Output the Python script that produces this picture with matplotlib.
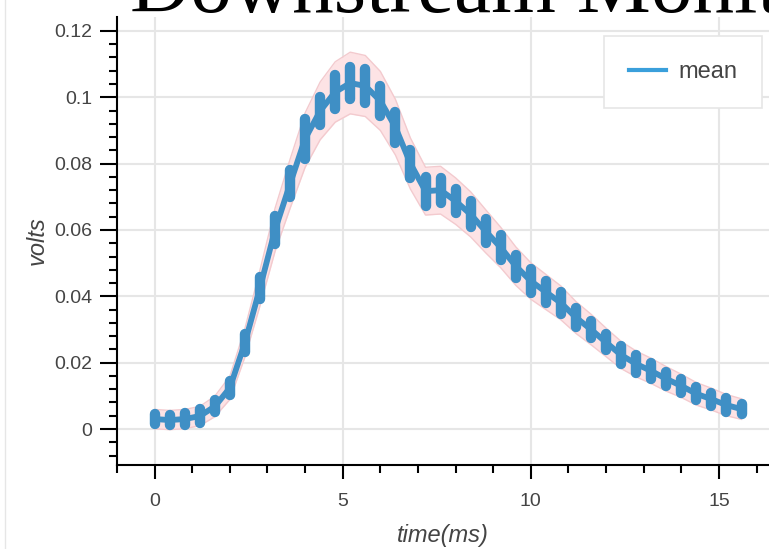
import matplotlib
matplotlib.use("Agg")
import matplotlib.pyplot as plt
from matplotlib.lines import Line2D

# sample times (ms), one cluster of samples per time
t_ms = [0.0, 0.4, 0.8, 1.2, 1.6, 2.0, 2.4, 2.8, 3.2, 3.6,
        4.0, 4.4, 4.8, 5.2, 5.6, 6.0, 6.4, 6.8, 7.2, 7.6,
        8.0, 8.4, 8.8, 9.2, 9.6, 10.0, 10.4, 10.8, 11.2, 11.6,
        12.0, 12.4, 12.8, 13.2, 13.6, 14.0, 14.4, 14.8, 15.2, 15.6]

# centre of each cluster (volts)
mean_v = [0.0030, 0.0027, 0.0030, 0.0039, 0.0068, 0.0124, 0.0260, 0.0425, 0.0600, 0.0739,
          0.0875, 0.0959, 0.1016, 0.1043, 0.1034, 0.0989, 0.0910, 0.0800, 0.0717, 0.0720,
          0.0687, 0.0647, 0.0596, 0.0547, 0.0491, 0.0446, 0.0413, 0.0380, 0.0336, 0.0300,
          0.0261, 0.0223, 0.0196, 0.0175, 0.0151, 0.0130, 0.0106, 0.0090, 0.0072, 0.0060]

# half spread of the samples inside each cluster
spread_v = [0.0014, 0.0014, 0.0017, 0.0020, 0.0018, 0.0020, 0.0027, 0.0032, 0.0041, 0.0041,
            0.0060, 0.0042, 0.0050, 0.0047, 0.0050, 0.0044, 0.0047, 0.0042, 0.0044, 0.0038,
            0.0035, 0.0039, 0.0036, 0.0039, 0.0035, 0.0035, 0.0032, 0.0032, 0.0030, 0.0027,
            0.0024, 0.0026, 0.0026, 0.0023, 0.0020, 0.0020, 0.0020, 0.0020, 0.0020, 0.0014]

# shaded band (lower / upper edge)
band_lo = [0.0001, -0.0002, 0.0001, 0.0010, 0.0037, 0.0089, 0.0217, 0.0371, 0.0535, 0.0665,
           0.0789, 0.0872, 0.0925, 0.0950, 0.0942, 0.0900, 0.0826, 0.0723, 0.0645, 0.0648,
           0.0617, 0.0579, 0.0531, 0.0486, 0.0433, 0.0391, 0.0360, 0.0329, 0.0288, 0.0254,
           0.0218, 0.0182, 0.0157, 0.0137, 0.0114, 0.0095, 0.0072, 0.0057, 0.0040, 0.0029]
band_hi = [0.0059, 0.0056, 0.0059, 0.0068, 0.0099, 0.0159, 0.0303, 0.0479, 0.0665, 0.0813,
           0.0953, 0.1046, 0.1107, 0.1136, 0.1126, 0.1078, 0.0994, 0.0877, 0.0789, 0.0792,
           0.0757, 0.0715, 0.0661, 0.0608, 0.0549, 0.0501, 0.0466, 0.0431, 0.0384, 0.0346,
           0.0304, 0.0264, 0.0235, 0.0213, 0.0188, 0.0165, 0.0140, 0.0123, 0.0104, 0.0091]

yticks = [0, 0.02, 0.04, 0.06, 0.08, 0.1, 0.12]
ytick_labels = ["0", "0.02", "0.04", "0.06", "0.08", "0.1", "0.12"]
xticks = [0, 5, 10, 15]
xtick_labels = ["0", "5", "10", "15"]

plt.rcParams['font.family'] = ['Liberation Sans', 'DejaVu Sans']

fig = plt.figure(figsize=(7.69, 5.49), dpi=100)
ax = fig.add_axes([117/769, 1 - 465/549, 1 - 117/769, (465 - 17)/549])

blue = '#3f8fc5'
ax.fill_between(t_ms, band_lo, band_hi, color='#fde3e5', lw=0, zorder=2)
ax.plot(t_ms, band_lo, color='#f3cace', lw=1, zorder=2)
ax.plot(t_ms, band_hi, color='#f3cace', lw=1, zorder=2)

ax.plot(t_ms, mean_v, color=blue, lw=4.2, solid_joinstyle='round', zorder=3)
lo = [m - s for m, s in zip(mean_v, spread_v)]
hi = [m + s for m, s in zip(mean_v, spread_v)]
ax.vlines(t_ms, lo, hi, color=blue, lw=7.5, capstyle='round', zorder=4)

ax.set_xlim(-0.954, 16.33)
ax.set_ylim(-0.01085, 0.1242)

ax.set_yticks(yticks)
ax.set_yticklabels(ytick_labels)
ax.set_xticks(xticks)
ax.set_xticklabels(xtick_labels)
ax.set_yticks([v / 1000 for v in range(-8, 124, 4)], minor=True)
ax.set_xticks(list(range(-1, 17)), minor=True)

ax.grid(True, which='major', color='#e6e6e6', lw=1.5, zorder=0)
ax.set_axisbelow(True)
for s in ['top', 'right']:
    ax.spines[s].set_visible(False)
for s in ['left', 'bottom']:
    ax.spines[s].set_linewidth(1.5)
    ax.spines[s].set_color('black')

ax.tick_params(axis='y', which='major', direction='out', length=12, width=1.5,
               pad=6, labelsize=14, labelcolor='#444444')
ax.tick_params(axis='x', which='major', direction='out', length=10, width=1.5,
               pad=10, labelsize=14, labelcolor='#444444')
ax.tick_params(which='minor', direction='out', length=6, width=1.5)

ax.set_xlabel('time(ms)', fontsize=17, style='italic', color='#444444', labelpad=10)
ax.set_ylabel('volts', fontsize=17, style='italic', color='#444444', labelpad=4)

handle = Line2D([], [], color='#3a9fdb', lw=3)
leg = ax.legend([handle], ['mean'], loc='upper right', bbox_to_anchor=(762/769, 1 - 36/549),
                bbox_transform=fig.transFigure, fontsize=17, frameon=True, fancybox=False,
                handlelength=1.6, handletextpad=0.5, borderpad=1.05, borderaxespad=0,
                labelcolor='#444444', framealpha=1)
leg.get_frame().set_edgecolor('#e6e6e6')
leg.get_frame().set_linewidth(1.2)

fig.text(130/769, 1 - 12/549, 'Downstream Monitor', fontsize=60, family='Liberation Serif',
         va='baseline', ha='left', color='black')
fig.add_artist(Line2D([5/769, 5/769], [0, 1], color='#e6e6e6', lw=1))

fig.savefig('out.png', dpi=100)
